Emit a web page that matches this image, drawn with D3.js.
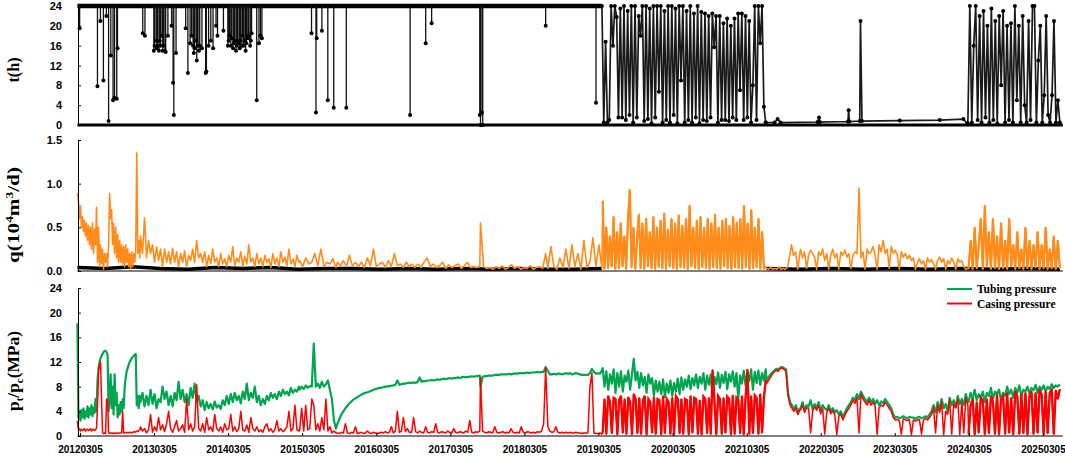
<!DOCTYPE html>
<html><head><meta charset="utf-8">
<script src="https://cdn.jsdelivr.net/npm/d3@7/dist/d3.min.js"></script>
<style>
html,body{margin:0;padding:0;background:#fff;}
svg{display:block;}
</style></head><body>
<svg id="chart" width="1065" height="456"></svg>
<script>
// ---------- DATA (time in decimal years) ----------
const xTickLabels = ["20120305","20130305","20140305","20150305","20160305","20170305","20180305","20190305","20200305","20210305","20220305","20230305","20240305","20250305"];
const tTicks = [0,4,8,12,16,20,24];
const qTicks = [0,0.5,1.0,1.5];
const qTickLabels = ["0.0","0.5","1.0","1.5"];
const pTicks = [0,4,8,12,16,20,24];
const legendLabels = ["Tubing pressure","Casing pressure"];

// t(h): daily production time. Long run at 24 h with single-day drops
const tBaseline = [[2012.14,24],[2019.22,24]];
const tSpikes = [
[2012.17,19.5],[2012.41,7.8],[2012.45,21],[2012.49,9],[2012.53,22],[2012.56,0.8],[2012.59,14],[2012.62,5],[2012.64,5.5],[2012.67,5.3],[2012.68,15.5],
[2013.02,18.5],[2013.05,18],
[2013.17,15],[2013.18,16],[2013.20,17],[2013.21,15.5],[2013.22,16],[2013.24,15],[2013.25,17],[2013.26,16],[2013.28,18],[2013.29,15],[2013.30,16],[2013.32,15],[2013.33,14.7],[2013.36,18],
[2013.41,20],[2013.43,8.5],[2013.44,2],[2013.47,14.5],
[2013.60,19.5],[2013.63,10.5],[2013.66,16.5],[2013.68,18],[2013.70,16],[2013.71,14.5],[2013.72,15.5],[2013.74,17],[2013.75,13],[2013.76,16],[2013.78,15],[2013.79,16],[2013.82,15.5],
[2013.87,10.5],[2013.88,10.8],[2013.91,16],[2013.94,17],[2013.97,15.5],[2014.01,20],[2014.03,18],[2014.11,19],
[2014.17,16],[2014.18,17],[2014.19,18],[2014.21,16],[2014.22,17.5],[2014.24,15.5],[2014.25,16.5],[2014.26,17],[2014.28,15],[2014.29,16],[2014.30,17],[2014.32,16.5],[2014.33,15.5],[2014.34,17],[2014.36,16],[2014.37,18],[2014.38,16],[2014.40,17],[2014.41,15],[2014.42,16.5],[2014.44,17.5],[2014.45,18],[2014.47,16],[2014.48,17],[2014.49,18.5],
[2014.56,5],[2014.59,16.5],[2014.61,18],[2014.63,17.5],
[2015.30,18.5],[2015.36,2.5],[2015.37,17.5],[2015.44,19],[2015.52,5],[2015.60,3.5],[2015.77,3.5],
[2016.63,2],[2016.84,16.5],[2016.92,20.5],
[2017.57,2],[2017.58,0],[2017.60,2.5],[2017.61,0],
[2018.46,20],[2019.14,4.5]
];
const tDenseSegs = [[2019.22,2021.43],[2024.16,2025.40]];
const tDense = [
[24,0.5,16.8,0.5,1,24,16,24,21.8,1.5,23.5,1.5,24,1,23,2,24,0.5,24,1.5,22,18,24,0.8,24,1.2,23.5,0.3,24,1.5,24,6.7,24,0.5,23,1,24,0.5,24,2,23.5,0.3,24,9,24,0.5,23,1,24,0.5,22.5,1.5,24,0.3,22.8,1,22.5,0.8,22,1.5,22.5,15.7,22,0.5,22,1,20.5,1,21.5,0.8,20,1.5,21.5,1,22.5,7,22.5,1,22,1.5,21,0.5,8,24,1,24,16.5,24,3.7,0.5],
[0.3,24,0.5,16,24,1,22,0.5,23,1.5,20,0.5,23.5,1,21,0.3,22,8,23,0.5,20,1,20.5,0.5,24,5,20,0.5,22,4,0.5,21,1,24,24,0.5,13,20,0.5,6,22,2,0.5,6,21,0.5,5,0.5]
];
const tLow = [[2021.43,0.5],[2021.55,0.5],[2021.59,1.2],[2021.63,0.5],[2022.13,0.6],[2022.15,1.5],[2022.16,0.6],[2022.54,0.7],[2022.55,3],[2022.56,0.7],[2022.70,0.8],[2022.71,21],[2022.73,0.8],[2023.24,0.9],[2023.78,1.0],[2024.10,1.2],[2024.15,0.3]];

// evenly sampled segments shared by q, tubing and casing series
const segTimes = [[2012.14,2012.98],[2012.99,2015.13],[2015.14,2015.63],[2015.65,2016.62],[2016.65,2017.57],[2017.58,2018.46],[2018.49,2019.22],[2019.23,2021.43],[2021.44,2021.89],[2021.90,2024.16],[2024.17,2025.40]];
const denseSegIdx = [7,10];

// q (10^4 m3/d) gas rate (orange)
const gasRate = [
[0.89,0.8,0.6,0.75,0.5,0.62,0.45,0.58,0.4,0.55,0.35,0.52,0.3,0.5,0.25,0.55,0.2,0.48,0.3,0.73,0.1,0.5,0.05,0.3,0.08,0.25,0.02,0.2,0.1,0.2,0.05,0.3,0.89,0.6,0.7,0.3,0.55,0.2,0.5,0.15,0.42,0.1,0.35,0.1,0.3,0.08,0.28,0.05,0.3,0.1,0.25,0.05,0.2,0.03,0.22,0.05,0.2,0.1,0.25,1.35,0.2,0.35,0.15],
[0.4,0.2,0.61,0.15,0.35,0.2,0.3,0.1,0.28,0.12,0.25,0.05,0.25,0.1,0.22,0.08,0.26,0.1,0.22,0.05,0.2,0.1,0.23,0.05,0.18,0.12,0.25,0.1,0.35,0.15,
 0.2,0.1,0.22,0.05,0.18,0.08,0.25,0.1,0.15,0.05,0.2,0.08,0.14,0.05,0.18,0.1,0.28,0.06,0.15,0.1,0.22,0.05,0.17,0.08,0.3,0.1,0.15,0.05,0.2,0.08,
 0.15,0.05,0.18,0.1,0.14,0.04,0.2,0.08,0.15,0.05,0.22,0.1,0.16,0.06,0.25,0.08,0.14,0.05,0.18,0.1],
[0.12,0.05,0.15,0.08,0.1,0.2,0.06,0.25,0.05,0.1,0.08,0.14,0.04],
[0.1,0.06,0.12,0.05,0.18,0.06,0.1,0.05,0.1,0.04,0.15,0.06,0.25,0.05,0.08,0.1,0.04,0.12,0.05,0.2,0.06,0.08,0.04,0.1,0.05],
[0.08,0.04,0.08,0.04,0.1,0.15,0.05,0.08,0.04,0.06,0.1,0.03,0.07,0.04,0.06,0.08,0.03,0.06,0.1,0.04,0.05,0.04,0.05],
[0.55,0.05,0.03,0.04,0.02,0.05,0.03,0.06,0.02,0.04,0.07,0.03,0.05,0.02,0.04,0.03,0.06,0.02,0.04,0.05,0.03,0.2],
[0.03,0.28,0.05,0.02,0.15,0.04,0.25,0.03,0.3,0.05,0.2,0.02,0.35,0.04,0.1,0.38,0.05,0.3,0.03],
[0.8,0.02,0.5,0.03,0.4,0.05,0.62,0.02,0.45,0.03,0.55,0.05,0.4,0.02,0.6,0.93,0.04,0.5,0.02,0.35,0.65,0.03,0.55,0.02,0.6,0.05,0.45,0.03,0.62,0.02,0.5,0.04,0.58,0.03,0.66,0.02,0.48,0.05,0.6,0.03,0.55,0.02,0.64,0.04,0.52,0.03,0.6,0.02,0.75,0.05,0.5,0.03,0.58,0.02,0.62,0.04,0.5,0.03,0.6,0.02,0.55,0.04,0.65,0.03,0.5,0.02,0.58,0.05,0.6,0.03,0.52,0.02,0.62,0.04,0.56,0.03,0.6,0.02,0.75,0.04,0.55,0.02,0.7,0.03,0.5,0.04,0.6,0.02,0.45,0.03,0.05],
[0.03,0.02,0.04,0.02,0.03,0.02,0.05,0.02,0.03,0.02,0.04,0.15,0.3,0.18,0.22,0.02,0.2],
[0.25,0.15,0.22,0.03,0.18,0.24,0.2,0.16,0.02,0.22,0.18,0.25,0.12,0.2,0.02,
 0.18,0.25,0.15,0.2,0.02,0.22,0.18,0.24,0.16,0.2,0.03,0.18,0.22,0.2,0.95,0.15,0.22,0.02,0.25,0.2,
 0.22,0.28,0.18,0.02,0.3,0.22,0.35,0.2,0.25,0.03,0.28,0.2,0.24,0.18,0.02,0.22,0.16,0.2,0.14,0.18,
 0.12,0.15,0.02,0.1,0.14,0.08,0.12,0.02,0.15,0.1,0.13,0.08,0.02,0.12,0.16,0.1,0.14,0.02,0.12,0.08,0.15,0.1,0.02,0.14,0.1,0.12,0.05,0.02,0.03],
[0.03,0.35,0.02,0.5,0.03,0.3,0.6,0.02,0.75,0.05,0.45,0.02,0.6,0.03,0.4,0.02,0.55,0.03,0.35,0.02,0.6,0.05,0.3,0.02,0.45,0.03,0.25,0.02,0.5,0.03,0.35,0.02,0.3,0.04,0.45,0.02,0.3,0.03,0.5,0.02,0.25,0.03,0.4,0.02,0.35,0.03]
];
// black low-rate series near zero in the q panel
const waterSegs = [[2012.14,2019.22],[2021.44,2025.40]];
const waterRate = [
[0.04,0.03,0.05,0.03,0.02,0.04,0.03,0.04,0.02,0.03,0.03,0.02,0.03,0.02,0.03,0.02,0.03,0.02,0.02,0.03],
[0.03,0.02,0.03,0.02,0.03,0.02,0.03,0.02,0.03,0.02]
];

// tubing pressure (green), MPa
const tubingPressure = [
[18.3,3,4,2.5,4.2,3,4.5,2.8,4,3.2,4.8,3,4.5,3.5,5,3.2,4.6,3.8,6,4,9,11,12,12.6,13,13.3,13.6,13.8,13.8,13.6,13.2,4,6,10,4.5,8,3.5,10,5,7,3,5,3.5,5.5,4,6,4.5,8,9.5,10.5,11,11.6,12,12.3,12.6,12.8,13,13.2,13.3,5,6.5,4.5,6.5],
[5.5,7,4.8,6.5,5,7.5,5.2,6.8,4.5,6,5.5,8,6,7.2,5,6.5,4.8,7,5.8,8.8,6,7.5,5.5,6.8,5,7.8,6.2,8.5,5.5,6.5,
 4.8,5.8,4.2,5.5,4.5,5.2,4.3,5.6,4.6,5,4.4,5.8,5,6.5,5.2,6.8,5.5,7,5.8,6.5,5.3,7.2,6,8.5,5.8,7,6.2,8,5.5,6.5,
 5,6,5.2,6.5,5.8,7,6.2,6.8,6,7.2,6.5,7.5,6.8,7.2,6.6,7.8,7,7.5,7.2,8],
[7.5,8,7.6,8.2,7.8,8.1,8,15,8,8.5,7.8,8.8,8,8.4,9,7.5,6,2.5,1.2],
[2,2.8,3.5,4,4.5,4.9,5.3,5.6,5.9,6.1,6.3,6.5,6.7,6.9,7,7.1,7.2,7.35,7.5,7.6,7.7,7.8,7.85,7.9,8,8.05,8.1,8.15,8.2,8.3,9,8.3,8.4,8.5,8.5,8.6,8.6],
[8.6,8.7,8.6,8.8,9.5,8.8,8.9,8.9,9,9,9.1,9,9.1,9.2,9.1,9.2,9.3,9.2,9.3,9.4,9.3,9.4,9.4,9.5,9.4,9.5,9.6,9.5,9.6,9.6,9.7,9.6,9.7,9.7,9.8],
[8,9.6,9.7,9.7,9.8,9.8,9.8,9.9,9.9,9.9,10,10,10,10,10.1,10,10.1,10.1,10.1,10.2,10.2,10.2,10.2,10.3,10.2,10.3,10.3,10.3,10.4,10.3,10.4,10.4,11.2],
[10.5,10,10,10.1,10,10.1,10.1,10,10.1,10.2,10.1,10.2,10,10.1,10.2,10.1,10,9.9,9.9,9.9,9.9,10.2,10.9,10.4,10.1,10.2,10.1,10.6],
[11,8,10.5,7.5,10,8.5,10.8,7,10.2,8, 10.5,7.2,9.8,8.8,10.6,7.5,10,12.5,9,10.4, 7.8,10.2,8.2,9.6,7,10,8.5,9.4,6.5,9, 7.2,8.8,6.8,9.2,6.3,8.5,7,9,6.5,8.6, 7.2,9.3,6.8,9.5,7.5,9.2,8,9.8,7.6,9.4, 8.2,10,7.8,9.6,8.5,10.2,7.5,9.8,8.3,10, 6.2,9.6,8.4,10.3,7.8,9.9,8.6,10.4,7.6,10, 8.8,10.5,8,10.2,6,9.8,8.5,10.6,8.2,10.3, 8.9,10.8,7.5,10.4,8.6,10.6,8.3,10.2,9,10.8],
[9,9.5,10,10.3,10.6,10.9,10.7,11.1,11.2,11,10.8,7,5.5,5,4.3,5,3.8,4.5],
[4.5,5.5,4.2,5,4.8,5.8,4.3,5.2,4.6,5.5,4,5,4.5,4.2,5, 4,4.5,3.8,4.2,3.5,4,3,3.8,4.5,5, 5.5,6.2,5.8,6.8,6,7.2,6.5,6,5.5,6.2, 5.5,6,5.2,5.8,5,5.6,5.3,6,5.5,5,4.5,3.5, 3,3.1,2.9,3,3.2,3,2.9,3.1,3,3,2.8,3,3.1,2.9,3,3.2,3,3.5, 4,5,3.8,5.5,4.2,6,4.5,5.2,4,6.2,5,5.8,4.6,6.5,5.2,6,5,6.8,5.5],
[5.5,7,6,7.5,5.8,6.8,6.2,7.2,5.5,7,6.5,7.8,6,7.2,6.8,7.5,5.8,7,6.5,8,6.8,7.5,6.2,7.8,7,8.2,6.5,7.5,7.2,8,6.8,7.8,7.4,8.3,7,8,7.5,8.2,7.2,8,7.6,8.4,7.8,8.2,8,8.4]
];
// casing pressure (red), MPa
const casingPressure = [
[2.5,1,1.2,0.8,1.1,0.9,1,1.2,0.8,1,1.1,0.9,1,1.2,0.8,1,1.1,0.9,1,1.3,5,10.5,11.5,12,6,0.5,0.4,0.5,0.4,6,5.8,0.5,0.4,0.5,0.5,0.4,0.5,0.4,0.5,0.5,0.4,0.5,0.5,0.5,0.5,4,0.5,0.5,0.6,0.5,0.6,0.5,0.6,0.6,0.5,0.6,0.7,0.6,0.7,0.8,0.7,0.9,1],
[1.5,0.8,1.2,0.5,1,3.5,0.6,1.5,0.8,3,1,1.8,0.7,2,4,1.2,0.6,1.5,2.5,0.8,1.2,1.8,0.6,6,1,2,0.8,1.5,8.3,1.2,
 0.8,2,0.6,3,1,1.5,0.7,3.5,1.2,0.8,1.5,0.6,2,1,1.2,3.5,0.8,1.5,0.7,1.2,4,1,0.8,1.8,0.6,3,1.2,0.8,1.5,0.7,
 1,0.6,1.5,2,0.8,1.2,0.6,1,2.5,0.8,1.2,0.7,1,1.5,4,0.8,1.2,5,1,0.8],
[1,4.5,0.8,5,1,1.2,6,5,1,2,0.8,3,1,6,0.8,1.5,0.5,0.8,0.5],
[0.5,0.4,0.6,0.5,2,0.5,0.4,0.6,0.5,1.5,0.4,0.5,0.6,0.4,0.5,0.8,0.5,0.4,0.6,0.5,0.4,0.5,0.6,0.5,0.7,0.5,0.6,1.5,0.5,0.8,4,0.6,0.8,3,0.7,1.2,0.6],
[0.6,3,0.7,0.5,0.8,0.6,0.5,1.5,0.6,0.5,0.7,0.6,2,0.6,0.5,0.7,0.6,0.5,0.8,0.6,0.5,1.2,0.6,0.5,0.7,0.6,0.5,0.8,0.6,2.5,0.6,0.5,0.7,0.6,0.8],
[9.5,0.8,0.6,0.5,0.7,0.6,0.5,1.5,0.6,0.5,0.6,0.7,0.5,0.6,0.5,1.2,0.6,0.5,0.6,0.5,1.5,0.6,0.5,0.7,0.6,0.5,0.6,0.5,0.7,0.6,0.8,2,11],
[1.5,0.8,0.6,0.7,1.5,0.6,0.5,0.6,0.5,0.6,0.5,0.6,0.5,0.5,0.6,0.5,0.5,0.4,0.5,0.5,0.5,8,10.2,0.5,0.4,0.4,0.5,0.3],
[0.5,6,0.3,6.5,5.5,0.4,6.2,6,0.2,5.8, 6.5,0.5,6,0.3,6.3,5.5,0.2,6.8,6,0.4, 6.2,0.3,5.8,6.5,0.2,6,5.5,0.5,6.3,0.3, 6,5.8,0.2,6.5,0.4,6,5.5,0.3,6.2,0.2, 6.5,6,0.4,6,0.3,6,5.8,0.2,6.5,0.5, 6.2,6,0.3,5.8,0.2,6.4,6,0.4,6.2,0.3, 10.7,5.8,0.2,6.5,6,0.3,6.2,0.5,6.4,6, 0.2,6.6,0.3,6.2,5.8,0.4,6.5,0.2,6.4,10.8, 0.3,6.5,0.4,6.6,6.2,0.3,6.8,0.5,6.2,9],
[8.5,9,9.5,10,10.4,10.7,10.5,11,11,10.8,10.5,6.5,5,4.5,4,4.5,3.5,4.2],
[4.2,5,3.8,4.6,4.5,0.5,4,4.8,4.2,5,3.6,4.5,0.3,3.8,4.5, 3.6,4.2,3.4,0.2,3.2,3.6,2.6,3.4,4,4.5, 5,5.8,5.3,6.2,0.5,6.8,6,5.5,5,5.8, 5,5.5,4.8,0.3,4.6,5,4.8,5.5,5,4.5,4,3, 2.6,2.7,2.5,0.3,2.8,2.6,2.5,2.7,0.2,2.6,2.4,2.6,2.7,0.3,2.6,2.8,2.6,3, 3.5,4.5,0.5,5,3.8,5.5,0.2,4,3.5,5.8,0.3,5.2,4.6,6,0.2,5.5,0.5,6.2,5],
[0.3,5,6,0.2,5.5,0.5,6.2,5.8,0.2,6,0.4,6.5,5.5,0.3,6.8,0.2,6,6.5,0.3,7,0.5,6.2,0.2,7.2,6.5,0.3,6.8,0.4,7,0.2,6.5,7.2,0.3,7,0.5,7.5,6.8,0.2,7.2,0.4,7,7.5,0.3,7.4,6,7.6]
];

// ---------- RENDER ----------
const svg = d3.select("#chart");
const C = {green:"#00A550", red:"#FF0000", orange:"#FF8C1A", black:"#000"};
const SANS = "'Liberation Sans', Arial, sans-serif";
const SERIF = "'Liberation Serif', 'Times New Roman', serif";

function yrToDate(y){const Y=Math.floor(y);const a=Date.UTC(Y,0,1),b=Date.UTC(Y+1,0,1);return new Date(a+(y-Y)*(b-a));}
function expand(segs, vals){const pts=[];segs.forEach((s,k)=>{const v=vals[k];const n=v.length;v.forEach((val,i)=>pts.push([s[0]+(s[1]-s[0])*(n>1?i/(n-1):0),val]));});return pts;}

const xTickDates = xTickLabels.map(s=>new Date(Date.UTC(+s.slice(0,4), +s.slice(4,6)-1, +s.slice(6,8))));
const x = d3.scaleUtc().domain([xTickDates[0], xTickDates[xTickDates.length-1]]).range([80,1043]);
const X = yr => x(yrToDate(yr));
const xStart = 2012.14, xEnd = 2025.44;

const yT = d3.scaleLinear().domain([0,24]).range([125,6]);
const yQ = d3.scaleLinear().domain([0,1.5]).range([271,140]);
const yP = d3.scaleLinear().domain([0,24]).range([436,288]);

function lineGen(y){return d3.line().x(d=>X(d[0])).y(d=>y(d[1]));}

// ---- Panel 1: t(h)
const g1 = svg.append("g");
g1.append("line").attr("x1",X(xStart)).attr("x2",X(xEnd)).attr("y1",yT(0)).attr("y2",yT(0)).attr("stroke","#000").attr("stroke-width",3);
g1.append("path").datum(tBaseline).attr("d",lineGen(yT)).attr("fill","none").attr("stroke","#000").attr("stroke-width",4.5);
g1.selectAll("line.spike").data(tSpikes).join("line").attr("class","spike")
  .attr("x1",d=>X(d[0])).attr("x2",d=>X(d[0])).attr("y1",yT(24)).attr("y2",d=>yT(d[1]))
  .attr("stroke","#111").attr("stroke-width",1.3);
const tPoly = expand([tDenseSegs[0]],[tDense[0]]).concat(tLow).concat(expand([tDenseSegs[1]],[tDense[1]]));
g1.append("path").datum(tPoly).attr("d",lineGen(yT)).attr("fill","none").attr("stroke","#1a1a1a").attr("stroke-width",1.7);
g1.selectAll("circle.m").data(tSpikes.concat(tPoly)).join("circle").attr("class","m")
  .attr("cx",d=>X(d[0])).attr("cy",d=>yT(d[1])).attr("r",2).attr("fill","#000");

// ---- Panel 2: q
const g2 = svg.append("g");
g2.append("line").attr("x1",X(xStart)).attr("x2",X(xEnd)).attr("y1",yQ(0)).attr("y2",yQ(0)).attr("stroke","#000").attr("stroke-width",1);
waterSegs.forEach((s,k)=>{
  g2.append("path").datum(expand([s],[waterRate[k]])).attr("d",lineGen(yQ)).attr("fill","none").attr("stroke",C.black).attr("stroke-width",3.5);
});
g2.append("path").datum(expand(segTimes,gasRate)).attr("d",lineGen(yQ)).attr("fill","none").attr("stroke",C.orange).attr("stroke-width",1.6).attr("stroke-linejoin","round");
denseSegIdx.forEach(k=>{
  g2.append("path").datum(expand([segTimes[k]],[gasRate[k]])).attr("d",lineGen(yQ)).attr("fill","none").attr("stroke",C.orange).attr("stroke-width",2.2);
});

// ---- Panel 3: pressures
const g3 = svg.append("g");
g3.append("path").datum(expand(segTimes,tubingPressure)).attr("d",lineGen(yP)).attr("fill","none").attr("stroke",C.green).attr("stroke-width",2.2).attr("stroke-linejoin","round");
g3.append("path").datum(expand(segTimes,casingPressure)).attr("d",lineGen(yP)).attr("fill","none").attr("stroke",C.red).attr("stroke-width",1.5).attr("stroke-linejoin","round");
denseSegIdx.forEach(k=>{
  g3.append("path").datum(expand([segTimes[k]],[casingPressure[k]])).attr("d",lineGen(yP)).attr("fill","none").attr("stroke",C.red).attr("stroke-width",2.3);
});
g3.append("line").attr("x1",X(xStart)).attr("x2",X(xEnd)).attr("y1",yP(0)).attr("y2",yP(0)).attr("stroke","#000").attr("stroke-width",1);

// ---- Axes
function styleAxis(g, size){
  g.selectAll(".tick text").attr("font-family",SANS).attr("font-weight","bold").attr("font-size",size).attr("fill","#000");
  g.selectAll(".tick line").attr("stroke","#000");
  g.select(".domain").attr("stroke","#000");
}
const ax1 = svg.append("g").attr("transform","translate(78,0)")
  .call(d3.axisLeft(yT).tickValues(tTicks).tickSizeInner(-3).tickSizeOuter(0).tickPadding(16));
styleAxis(ax1, 11);
const ax2 = svg.append("g").attr("transform","translate(78,0)")
  .call(d3.axisLeft(yQ).tickValues(qTicks).tickFormat((d,i)=>qTickLabels[i]).tickSizeInner(-3).tickSizeOuter(0).tickPadding(16));
styleAxis(ax2, 11);
const ax3 = svg.append("g").attr("transform","translate(78,0)")
  .call(d3.axisLeft(yP).tickValues(pTicks).tickSizeInner(-3).tickSizeOuter(0).tickPadding(16));
styleAxis(ax3, 11);
const axX = svg.append("g").attr("transform",`translate(0,${yP(0)})`)
  .call(d3.axisBottom(x).tickValues(xTickDates).tickFormat((d,i)=>xTickLabels[i]).tickSizeInner(-3).tickSizeOuter(0).tickPadding(10));
styleAxis(axX, 10);
axX.select(".domain").remove();

// ---- Axis titles
function yTitle(cx, cy, parts, len){
  const t = svg.append("text").attr("font-family",SERIF).attr("font-weight","bold").attr("font-size",16).attr("text-anchor","middle").attr("fill","#000");
  parts.forEach(p=>{t.append("tspan").attr("font-size",p.s||16).attr("dy",p.dy||0).text(p.t);});
  const w = t.node().getComputedTextLength();
  t.attr("transform",`translate(${cx},${cy}) rotate(-90) scale(${len/w},1)`);
}
yTitle(19, 70, [{t:"t(h)"}], 25);
yTitle(19, 215, [{t:"q(10"},{t:"4",s:10,dy:-6},{t:"m",dy:6},{t:"3",s:10,dy:-6},{t:"/d)",dy:6}], 96);
yTitle(19, 371, [{t:"p"},{t:"t",s:10,dy:4},{t:"/p",dy:-4},{t:"c",s:10,dy:4},{t:"(MPa)",dy:-4}], 80);

// ---- Legend
const legColors = [C.green, C.red];
const leg = svg.append("g");
legendLabels.forEach((lab,i)=>{
  const yy = 289 + i*14.5;
  leg.append("line").attr("x1",947).attr("x2",972).attr("y1",yy).attr("y2",yy).attr("stroke",legColors[i]).attr("stroke-width",2);
  leg.append("text").attr("x",977).attr("y",yy+4).attr("font-family",SERIF).attr("font-weight","bold").attr("font-size",11.5).attr("fill","#000").text(lab);
});
</script></body></html>
